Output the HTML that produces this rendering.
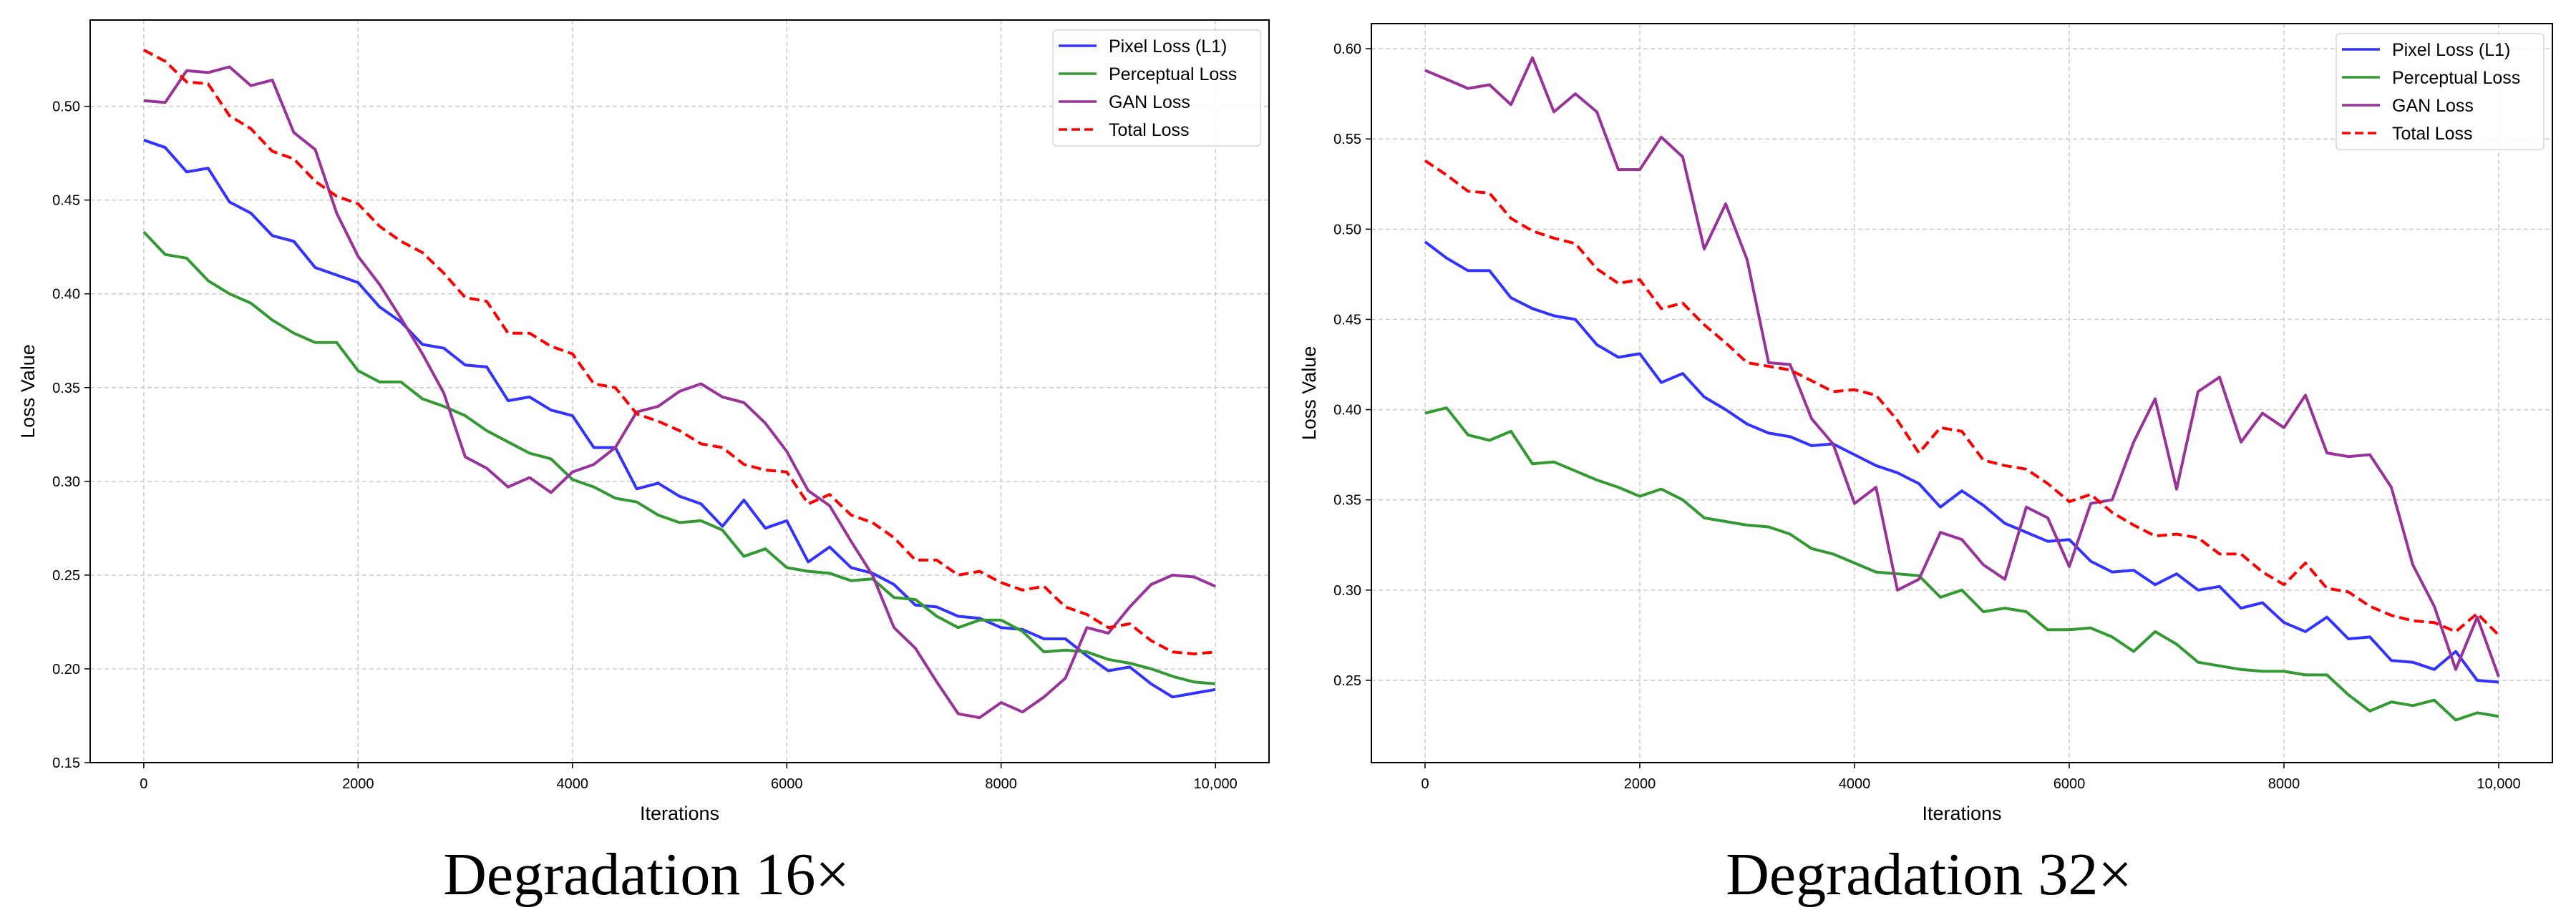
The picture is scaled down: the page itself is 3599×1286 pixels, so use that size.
<!DOCTYPE html>
<html><head><meta charset="utf-8"><style>
html,body{margin:0;padding:0;background:#fff;}
svg{display:block;}
text{font-family:"Liberation Sans",sans-serif;}
</style></head><body>
<svg id="fig" width="3599" height="1286" viewBox="0 0 3599 1286" xmlns="http://www.w3.org/2000/svg">
<rect width="3599" height="1286" fill="#fff"/>
<g id="p0"></g>
<g id="p1"></g>
<text x="903" y="1250" text-anchor="middle" font-size="84" style="font-family:'Liberation Serif',serif">Degradation 16×</text>
<text x="2695" y="1250" text-anchor="middle" font-size="84" style="font-family:'Liberation Serif',serif">Degradation 32×</text>
</svg>
<script>
const iterations = [0,200,400,600,800,1000,1200,1400,1600,1800,2000,2200,2400,2600,2800,3000,3200,3400,3600,3800,4000,4200,4400,4600,4800,5000,5200,5400,5600,5800,6000,6200,6400,6600,6800,7000,7200,7400,7600,7800,8000,8200,8400,8600,8800,9000,9200,9400,9600,9800,10000];
const xTicks = [0,2000,4000,6000,8000,10000];
const xTickLabels = ["0","2000","4000","6000","8000","10,000"];
const seriesNames = ["Pixel Loss (L1)","Perceptual Loss","GAN Loss","Total Loss"];

const pixel16 = [.482,.478,.465,.467,.449,.443,.431,.428,.414,.410,.406,.393,.385,.373,.371,.362,.361,.343,.345,.338,.335,.318,.318,.296,.299,.292,.288,.276,.290,.275,.279,.257,.265,.254,.251,.245,.234,.233,.228,.227,.222,.221,.216,.216,.207,.199,.201,.192,.185,.187,.189];
const percep16 = [.433,.421,.419,.407,.400,.395,.386,.379,.374,.374,.359,.353,.353,.344,.340,.335,.327,.321,.315,.312,.301,.297,.291,.289,.282,.278,.279,.274,.260,.264,.254,.252,.251,.247,.248,.238,.237,.228,.222,.226,.226,.220,.209,.210,.209,.205,.203,.200,.196,.193,.192];
const gan16 = [.503,.502,.519,.518,.521,.511,.514,.486,.477,.443,.420,.405,.387,.368,.347,.313,.307,.297,.302,.294,.305,.309,.318,.337,.340,.348,.352,.345,.342,.331,.316,.295,.287,.268,.250,.222,.211,.193,.176,.174,.182,.177,.185,.195,.222,.219,.233,.245,.250,.249,.244];
const total16 = [.530,.524,.513,.512,.495,.488,.476,.472,.460,.452,.448,.436,.428,.422,.411,.398,.396,.379,.379,.372,.368,.352,.350,.336,.332,.327,.320,.318,.309,.306,.305,.288,.293,.282,.278,.270,.258,.258,.250,.252,.246,.242,.244,.233,.229,.222,.224,.215,.209,.208,.209];
const yTicks16 = [0.15,0.20,0.25,0.30,0.35,0.40,0.45,0.50];
const yTickLabels16 = ["0.15","0.20","0.25","0.30","0.35","0.40","0.45","0.50"];

const pixel32 = [.493,.484,.477,.477,.462,.456,.452,.450,.436,.429,.431,.415,.420,.407,.400,.392,.387,.385,.380,.381,.375,.369,.365,.359,.346,.355,.347,.337,.332,.327,.328,.316,.310,.311,.303,.309,.300,.302,.290,.293,.282,.277,.285,.273,.274,.261,.260,.256,.266,.250,.249];
const percep32 = [.398,.401,.386,.383,.388,.370,.371,.366,.361,.357,.352,.356,.350,.340,.338,.336,.335,.331,.323,.320,.315,.310,.309,.308,.296,.300,.288,.290,.288,.278,.278,.279,.274,.266,.277,.270,.260,.258,.256,.255,.255,.253,.253,.242,.233,.238,.236,.239,.228,.232,.230];
const gan32 = [.588,.583,.578,.580,.569,.595,.565,.575,.565,.533,.533,.551,.540,.489,.514,.483,.426,.425,.395,.381,.348,.357,.300,.306,.332,.328,.314,.306,.346,.340,.313,.348,.350,.382,.406,.356,.410,.418,.382,.398,.390,.408,.376,.374,.375,.357,.314,.291,.256,.285,.252];
const total32 = [.538,.530,.521,.520,.506,.499,.495,.492,.478,.470,.472,.456,.459,.447,.437,.426,.424,.422,.416,.410,.411,.408,.394,.376,.390,.388,.372,.369,.367,.359,.349,.353,.343,.336,.330,.331,.329,.320,.320,.310,.303,.315,.301,.299,.291,.286,.283,.282,.277,.287,.275];
const yTicks32 = [0.25,0.30,0.35,0.40,0.45,0.50,0.55,0.60];
const yTickLabels32 = ["0.25","0.30","0.35","0.40","0.45","0.50","0.55","0.60"];

const NS = "http://www.w3.org/2000/svg";
function mk(tag, attrs, parent){const e=document.createElementNS(NS,tag);for(const k in attrs)e.setAttribute(k,attrs[k]);parent.appendChild(e);return e;}
const colors=["#3333ff","#339933","#993399","#ff0000"];

function drawPanel(g, box, ylim, yTicks, yLabels, series, legendBox){
  const xs=v=>box.l+(v-(-500))/(11000)*(box.r-box.l);
  const ys=v=>box.b-(v-ylim[0])/(ylim[1]-ylim[0])*(box.b-box.t);
  xTicks.forEach((t,i)=>{
    const gl=mk('line',{x1:xs(t),x2:xs(t),y1:box.t,y2:box.b,stroke:'#cccccc','stroke-width':1.5,'stroke-dasharray':'6,4'},g);
    
    
    const tk=mk('line',{x1:xs(t),x2:xs(t),y1:box.b,y2:box.b+8,stroke:'#000','stroke-width':1.5},g);
    
    
    const tl=mk('text',{x:xs(t),y:box.b+36,'text-anchor':'middle','font-size':20},g);
    tl.textContent=xTickLabels[i];
    
    
  });
  yTicks.forEach((t,i)=>{
    const gl=mk('line',{x1:box.l,x2:box.r,y1:ys(t),y2:ys(t),stroke:'#cccccc','stroke-width':1.5,'stroke-dasharray':'6,4'},g);
    
    
    const tk=mk('line',{x1:box.l-8,x2:box.l,y1:ys(t),y2:ys(t),stroke:'#000','stroke-width':1.5},g);
    
    
    const tl=mk('text',{x:box.l-14,y:ys(t)+7,'text-anchor':'end','font-size':20},g);
    tl.textContent=yLabels[i];
    
    
  });
  series.forEach((s,k)=>{
    const d=s.map((v,i)=>(i?'L':'M')+xs(iterations[i]).toFixed(1)+','+ys(v).toFixed(1)).join('');
    const p=mk('path',{d:d,fill:'none',stroke:colors[k],'stroke-width':4,'stroke-linejoin':'round'},g);
    if(k===3)p.setAttribute('stroke-dasharray','14,7');
    
    
  });
  const fr=mk('rect',{x:box.l,y:box.t,width:box.r-box.l,height:box.b-box.t,fill:'none',stroke:'#000','stroke-width':2},g);
  
  
  const xl=mk('text',{x:(box.l+box.r)/2,y:box.b+80,'text-anchor':'middle','font-size':27},g);
  xl.textContent='Iterations';
  
  
  const yx=box.l-78, yy=(box.t+box.b)/2;
  const yl=mk('text',{x:yx,y:yy,'text-anchor':'middle','font-size':27,transform:'rotate(-90 '+yx+' '+yy+')'},g);
  yl.textContent='Loss Value';
  
  
  const lg=mk('g',{},g);
  
  
  mk('rect',{x:legendBox.x,y:legendBox.y,width:290,height:162,rx:5,fill:'#fff','fill-opacity':0.85,stroke:'#d5d5d5','stroke-width':1.5},lg);
  seriesNames.forEach((n,k)=>{
    const cy=legendBox.y+22+k*39;
    const ln=mk('line',{x1:legendBox.x+8,x2:legendBox.x+61,y1:cy,y2:cy,stroke:colors[k],'stroke-width':3.5},lg);
    if(k===3)ln.setAttribute('stroke-dasharray','12,6');
    
    
    const tx=mk('text',{x:legendBox.x+78,y:cy+9,'font-size':25},lg);
    tx.textContent=n;
    
    
  });
}
drawPanel(document.getElementById('p0'),{l:126,r:1773,t:28,b:1066},[0.15,0.546],yTicks16,yTickLabels16,[pixel16,percep16,gan16,total16],{x:1471,y:42});
drawPanel(document.getElementById('p1'),{l:1916,r:3566,t:33,b:1066},[0.2044,0.6139],yTicks32,yTickLabels32,[pixel32,percep32,gan32,total32],{x:3264,y:47});
</script>
</body></html>
